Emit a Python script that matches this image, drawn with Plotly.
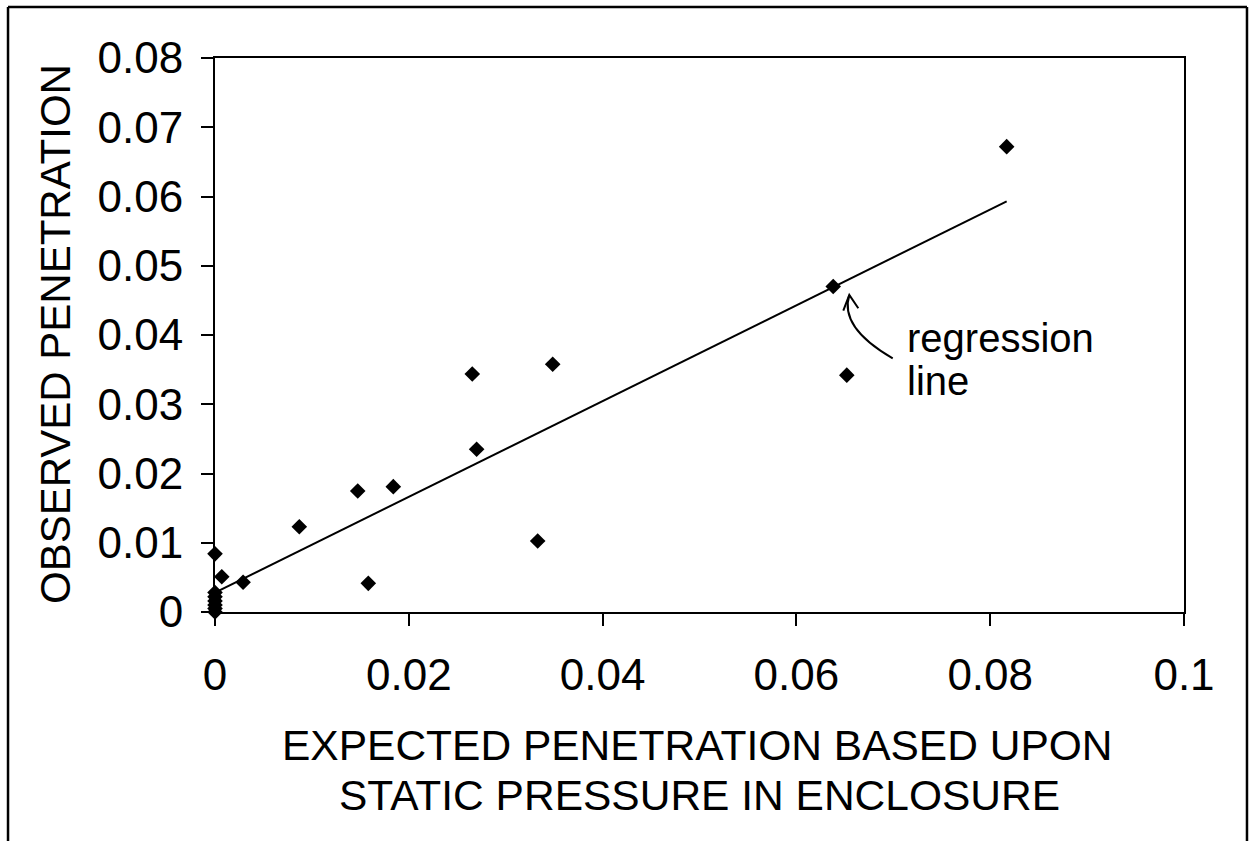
import plotly.graph_objects as go

# Data
expected = [0.0817, 0.0638, 0.0652, 0.03485, 0.02655, 0.0270, 0.01473, 0.0184,
            0.0333, 0.01582, 0.0087, 0.0029, 0.0007, 0.0000,
            0.0000, 0.0000, 0.0000, 0.0000, 0.0000, 0.0000]
observed = [0.0672, 0.0470, 0.0342, 0.03577, 0.03437, 0.0235, 0.01747, 0.0181,
            0.01025, 0.00414, 0.0123, 0.0043, 0.0051, 0.0084,
            0.0028, 0.0022, 0.0016, 0.0010, 0.0005, 0.0000]

reg_x = [0.0, 0.0817]
reg_y = [0.0028, 0.0593]

x_ticks = [0, 0.02, 0.04, 0.06, 0.08, 0.1]
x_tick_labels = ["0", "0.02", "0.04", "0.06", "0.08", "0.1"]
y_ticks = [0, 0.01, 0.02, 0.03, 0.04, 0.05, 0.06, 0.07, 0.08]
y_tick_labels = ["0", "0.01", "0.02", "0.03", "0.04", "0.05", "0.06", "0.07", "0.08"]

x_title_lines = ["EXPECTED PENETRATION BASED UPON", "STATIC PRESSURE IN ENCLOSURE"]
y_title = "OBSERVED PENETRATION"

FONT = "Arial, Liberation Sans, sans-serif"

fig = go.Figure()
fig.add_trace(go.Scatter(x=reg_x, y=reg_y, mode="lines",
                         line=dict(color="black", width=2), showlegend=False,
                         cliponaxis=False))
fig.add_trace(go.Scatter(x=expected, y=observed, mode="markers",
                         marker=dict(symbol="diamond", size=12, color="black"),
                         showlegend=False, cliponaxis=False))

axis_common = dict(showline=True, linecolor="black", linewidth=2, mirror=True,
                   showgrid=False, zeroline=False, ticks="outside", ticklen=12,
                   tickwidth=1.5, tickcolor="black",
                   tickfont=dict(family=FONT, size=44, color="black"))

fig.update_xaxes(range=[0, 0.1], tickvals=x_ticks, ticktext=x_tick_labels,
                 ticklabelstandoff=11, **axis_common)
fig.update_yaxes(range=[0, 0.08], tickvals=y_ticks, ticktext=y_tick_labels,
                 ticklabelstandoff=9, **axis_common)

# curved arrow for "regression line" label
fig.add_shape(type="path", xref="x", yref="y",
              path="M 0.06994,0.03664 Q 0.0644,0.0411 0.06546,0.04578",
              line=dict(color="black", width=2))
fig.add_shape(type="path", xref="x", yref="y",
              path="M 0.06484,0.04351 L 0.06546,0.04578 L 0.06639,0.04386",
              line=dict(color="black", width=2))

annotations = [
    dict(text="regression", x=0.0712, y=0.0395, xref="x", yref="y",
         xanchor="left", yanchor="middle", showarrow=False,
         font=dict(family=FONT, size=40, color="black")),
    dict(text="line", x=0.0712, y=0.0333, xref="x", yref="y",
         xanchor="left", yanchor="middle", showarrow=False,
         font=dict(family=FONT, size=40, color="black")),
    dict(text=x_title_lines[0],
         x=(697 - 215) / 969, y=(612 - 745) / 554, xref="paper", yref="paper",
         xanchor="center", yanchor="middle", showarrow=False,
         font=dict(family=FONT, size=42.5, color="black")),
    dict(text=x_title_lines[1],
         x=(699 - 215) / 969, y=(612 - 795) / 554, xref="paper", yref="paper",
         xanchor="center", yanchor="middle", showarrow=False,
         font=dict(family=FONT, size=42.5, color="black")),
    dict(text=y_title, textangle=-90,
         x=(55 - 215) / 969, y=(612 - 334) / 554, xref="paper", yref="paper",
         xanchor="center", yanchor="middle", showarrow=False,
         font=dict(family=FONT, size=42, color="black")),
]

# outer frame (left, top, right edges)
for (x0, y0, x1, y1) in [(-0.2136, -0.5, -0.2136, 1.0921),
                         (-0.2136, 1.0921, 1.065, 1.0921),
                         (1.065, 1.0921, 1.065, -0.5)]:
    fig.add_shape(type="line", xref="paper", yref="paper",
                  x0=x0, y0=y0, x1=x1, y1=y1,
                  line=dict(color="black", width=2.5))

fig.update_layout(width=1249, height=841,
                  margin=dict(l=215, r=65, t=58, b=229),
                  paper_bgcolor="white", plot_bgcolor="white",
                  annotations=annotations,
                  font=dict(family=FONT, color="black"))

fig.write_html("out.html")
